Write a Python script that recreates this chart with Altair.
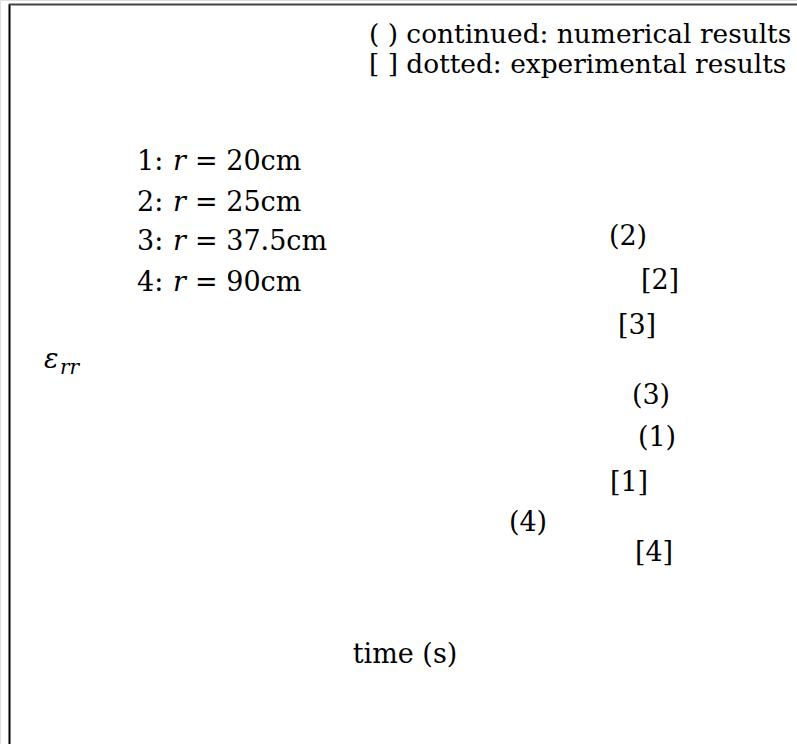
import altair as alt
import pandas as pd

# Canvas coordinates for the annotation layer (x grows right, y grows down)
W, H = 797, 744
FONT = "DejaVu Serif"
SIZE = 27
HEADER_SIZE = 26.4

# Header describing the two line styles
header_text = ["( ) continued: numerical results", "[ ] dotted: experimental results"]
header_x = [369, 369]
header_y = [35, 65]

# Radius legend: "n: r = R cm"
legend_ids = ["1:", "2:", "3:", "4:"]
legend_radius = ["20cm", "25cm", "37.5cm", "90cm"]
legend_x = [137, 137, 137, 137]
legend_y = [162, 203, 242, 283]

# Curve labels: () numerical, [] experimental
curve_labels = ["(2)", "[2]", "[3]", "(3)", "(1)", "[1]", "(4)", "[4]"]
curve_x = [628, 660, 637, 651, 657, 629, 528, 654]
curve_y = [237, 281, 326, 396, 438, 483, 523, 553]

# Axis titles
xtitle = ["time (s)"]
xtitle_x = [405]
xtitle_y = [655]
ytitle_x = [44]
ytitle_y = [360]

xs = alt.Scale(domain=[0, W], range=[0, W])
ys = alt.Scale(domain=[0, H], range=[0, H])


def pos(df):
    return dict(
        x=alt.X("x:Q", scale=xs, axis=None),
        y=alt.Y("y:Q", scale=ys, axis=None),
    )


header_df = pd.DataFrame({"text": header_text, "x": header_x, "y": header_y})
legend_df = pd.DataFrame(
    {"id": legend_ids, "radius": legend_radius, "x": legend_x, "y": legend_y}
)
legend_df["rest"] = "= " + legend_df["radius"]
curve_df = pd.DataFrame({"text": curve_labels, "x": curve_x, "y": curve_y})
xt_df = pd.DataFrame({"text": xtitle, "x": xtitle_x, "y": xtitle_y})
yt_df = pd.DataFrame({"x": ytitle_x, "y": ytitle_y})

base_text = dict(font=FONT, color="black", baseline="middle")

header = alt.Chart(header_df).mark_text(
    align="left", fontSize=HEADER_SIZE, **base_text
).encode(text="text:N", **pos(header_df))

leg_id = alt.Chart(legend_df).mark_text(
    align="left", fontSize=SIZE, **base_text
).encode(text="id:N", **pos(legend_df))
leg_r = alt.Chart(legend_df).mark_text(
    align="left", dx=36, fontStyle="italic", fontSize=SIZE, **base_text
).encode(text=alt.value("r"), **pos(legend_df))
leg_rest = alt.Chart(legend_df).mark_text(
    align="left", dx=58, fontSize=SIZE, **base_text
).encode(text="rest:N", **pos(legend_df))

curves = alt.Chart(curve_df).mark_text(
    align="center", fontSize=SIZE, **base_text
).encode(text="text:N", **pos(curve_df))

xt = alt.Chart(xt_df).mark_text(
    align="center", fontSize=SIZE, **base_text
).encode(text="text:N", **pos(xt_df))

eps = alt.Chart(yt_df).mark_text(
    align="left", fontStyle="italic", fontSize=SIZE, **base_text
).encode(text=alt.value("ε"), **pos(yt_df))
eps_sub = alt.Chart(yt_df).mark_text(
    align="left", dx=16, dy=8, fontSize=20, fontStyle="italic", **base_text
).encode(text=alt.value("rr"), **pos(yt_df))

# Frame: left and top edges of the plotting box
frame_left = alt.Chart().mark_rule(color="black", strokeWidth=2).encode(
    x=alt.value(9.5), y=alt.value(4), y2=alt.value(H)
)
frame_top = alt.Chart().mark_rule(color="#444444", strokeWidth=2).encode(
    x=alt.value(9), x2=alt.value(W), y=alt.value(4.5)
)

chart = (
    alt.layer(frame_left, frame_top, header, leg_id, leg_r, leg_rest, curves, xt, eps, eps_sub)
    .properties(width=W, height=H, padding=0, autosize=alt.AutoSizeParams(type="none"))
    .configure_view(stroke=None)
    .configure(background="white")
)

chart.save("out.html", embed_options={"renderer": "svg", "actions": False})
